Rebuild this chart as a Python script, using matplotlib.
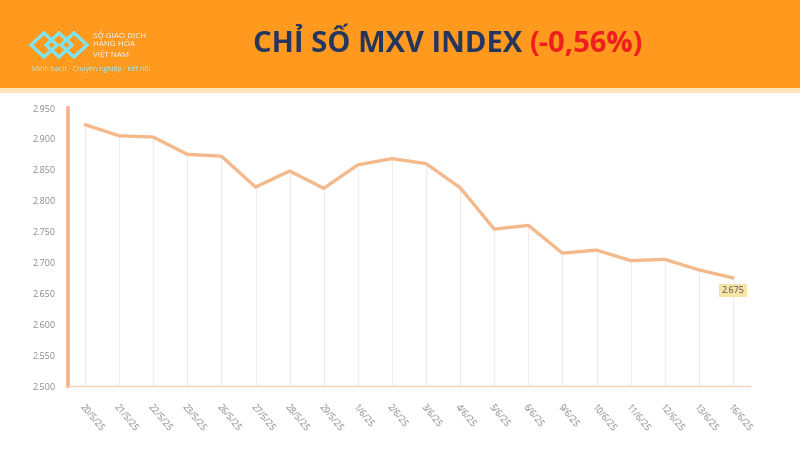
# -*- coding: utf-8 -*-
import matplotlib
matplotlib.use("Agg")
import matplotlib.pyplot as plt
from matplotlib.patches import Rectangle, Polygon

# data
dates = ["20/5/25", "21/5/25", "22/5/25", "23/5/25", "26/5/25", "27/5/25",
         "28/5/25", "29/5/25", "1/6/25", "2/6/25", "3/6/25", "4/6/25",
         "5/6/25", "6/6/25", "9/6/25", "10/6/25", "11/6/25", "12/6/25",
         "13/6/25", "16/6/25"]
values = [2923, 2905, 2903, 2875, 2872, 2822, 2848, 2820, 2858, 2868,
          2860, 2821, 2754, 2760, 2715, 2720, 2703, 2705, 2688, 2675]
yticks = [2500, 2550, 2600, 2650, 2700, 2750, 2800, 2850, 2900, 2950]

title_main = "CHỈ SỐ MXV INDEX "
title_change = "(-0,56%)"

plt.rcParams['font.family'] = ['Open Sans', 'DejaVu Sans']

fig = plt.figure(figsize=(8, 4.5), dpi=100)
fig.patch.set_facecolor("white")

# orange header band
fig.patches.append(Rectangle((0, 1 - 88/450), 1, 88/450, transform=fig.transFigure,
                             facecolor="#FF9A1E", edgecolor="none", zorder=0))
fig.patches.append(Rectangle((0, 1 - 93/450), 1, 5/450, transform=fig.transFigure,
                             facecolor="#FCE3B8", edgecolor="none", zorder=0))

# logo (rough)
logo_c = "#7FE3F0"
for i in range(3):
    cx = 44 + i*15
    pts = [(cx - 13, 45), (cx, 33), (cx + 13, 45), (cx, 57)]
    fig.patches.append(Polygon([(px/800, 1 - py/450) for px, py in pts], closed=True,
                               transform=fig.transFigure, fill=False,
                               edgecolor=logo_c, linewidth=2.4, zorder=2))
fig.text(93/800, 1 - 36/450, "SỞ GIAO DỊCH", fontsize=5.8, color="#EAF8FF", va="center")
fig.text(93/800, 1 - 45/450, "HÀNG HÓA", fontsize=5.8, color="#EAF8FF", va="center")
fig.text(93/800, 1 - 54/450, "VIỆT NAM", fontsize=5.8, color="#EAF8FF", va="center")
fig.text(32/800, 1 - 69/450, "Minh bạch · Chuyên nghiệp · Kết nối", fontsize=5,
         color="#9FEAF5", va="center")

# title
t1 = fig.text(253/800, 1 - 45/450, title_main, fontsize=21, fontweight="bold",
              color="#24365E", va="center", ha="left")
fig.canvas.draw()
bb = t1.get_window_extent()
fig.text(bb.x1/800, 1 - 45/450, title_change, fontsize=21, fontweight="bold",
         color="#F01E1E", va="center", ha="left")

ax = fig.add_axes([68/800, 1 - 386/450, (750 - 68)/800, (386 - 108)/450])
ax.set_facecolor("white")
x = list(range(len(values)))

line_c = "#F4B98A"
ax.vlines(x, 2500, values, colors="#F1ECE8", linewidth=0.8, zorder=1)
ax.plot(x, values, color=line_c, linewidth=2.4, solid_joinstyle="round",
        solid_capstyle="round", zorder=3)

ax.set_xlim(-0.5, len(values) - 0.5)
ax.set_ylim(2500, 2950)
ax.set_yticks(yticks)
ax.set_yticklabels([f"{v:,}".replace(",", ".") for v in yticks], fontsize=6.5, color="#8C8C8C")
ax.set_xticks(x)
ax.set_xticklabels(dates, rotation=-50, ha="left", rotation_mode="anchor",
                   fontsize=6.5, color="#8C8C8C")
ax.tick_params(axis="both", length=0, pad=9)
ax.tick_params(axis="x", pad=12)

for s in ["top", "right"]:
    ax.spines[s].set_visible(False)
ax.spines["left"].set_color("#F4B08A")
ax.spines["left"].set_linewidth(2.6)
ax.spines["bottom"].set_color("#F8D2B8")
ax.spines["bottom"].set_linewidth(1.0)

# last value label
ax.annotate(f"{values[-1]:,}".replace(",", "."), xy=(x[-1], values[-1]),
            xytext=(0, -9), textcoords="offset points", ha="center", va="center",
            fontsize=6.5, color="#555555",
            bbox=dict(boxstyle="square,pad=0.25", facecolor="#F6E4A6", edgecolor="none"),
            zorder=5)

fig.savefig("out.png", dpi=100)
